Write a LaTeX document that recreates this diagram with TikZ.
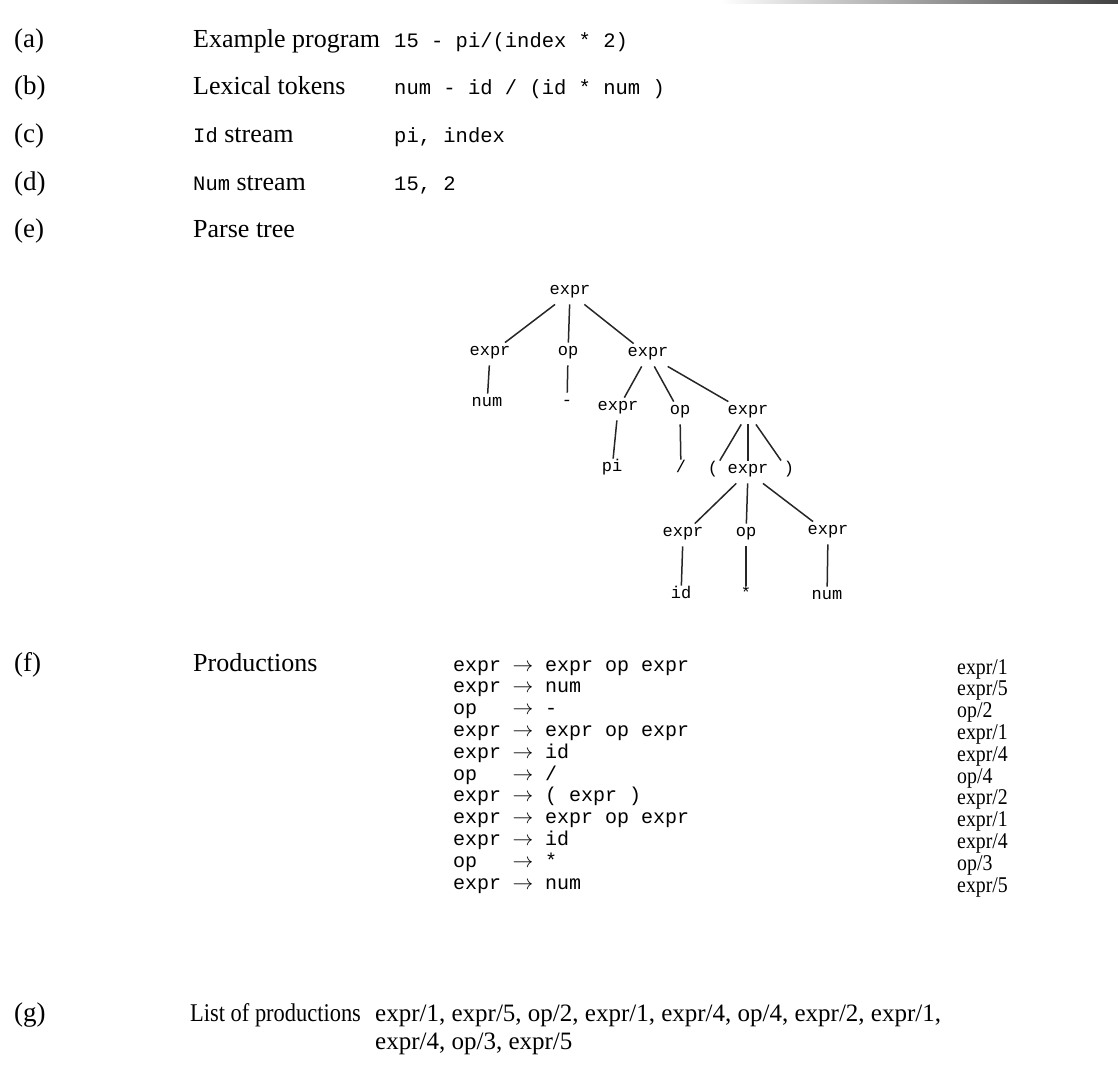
\documentclass[tikz,border=0pt]{standalone}
\usepackage{fontspec}
\setmainfont{Liberation Serif}
\setmonofont{Liberation Mono}
\newfontfamily\condserif[FakeStretch=0.88]{Liberation Serif}
\begin{document}
\begin{tikzpicture}[x=1pt,y=-1pt,
  tag/.style={anchor=base west,inner sep=0,font=\fontsize{27}{30}\selectfont},
  desc/.style={anchor=base west,inner sep=0,font=\fontsize{26}{30}\selectfont},
  val/.style={anchor=base west,inner sep=0,font=\fontsize{20.5}{24}\ttfamily},
  tn/.style={inner xsep=3pt,inner ysep=8pt,font=\fontsize{17}{18}\ttfamily,text height=1.1ex,text depth=0.3ex},
  edge/.style={line width=1.5pt,black!85},
  prodl/.style={anchor=base west,inner sep=0,font=\fontsize{20}{22}\ttfamily},
  arr/.style={anchor=base,inner sep=0,font=\fontsize{20}{22}\selectfont},
  rule/.style={anchor=base west,inner sep=0,font=\fontsize{22.5}{24}\condserif},
  lst/.style={anchor=base west,inner sep=0,font=\fontsize{25}{27}\selectfont},
]
\useasboundingbox (0,0) rectangle (1118,1066);
\shade[left color=white,right color=black!75] (720,0) rectangle (1118,3);

% rows (a)-(e)
\node[tag] (ta) at (14,47) {(a)};
\node[desc] (da) at (193,47) {Example program};
\node[val] (va) at (394,47) {15 - pi/(index * 2)};
\node[tag] (tb) at (14,94) {(b)};
\node[desc] (db) at (193,94) {Lexical tokens};
\node[val] (vb) at (394,94) {num - id / (id * num )};
\node[tag] (tc) at (14,142) {(c)};
\node[desc] (dc) at (193,142) {{\fontsize{20.5}{24}\ttfamily Id} stream};
\node[val] (vc) at (394,142) {pi, index};
\node[tag] (td) at (14,190) {(d)};
\node[desc] (dd) at (193,190) {{\fontsize{20.5}{24}\ttfamily Num} stream};
\node[val] (vd) at (394,190) {15, 2};
\node[tag] (te) at (14,237) {(e)};
\node[desc] (de) at (193,237) {Parse tree};

% parse tree
\node[tn] (r)  at (570,293) {expr};
\node[tn] (a1) at (490,354) {expr};
\node[tn] (a2) at (568,354) {op};
\node[tn] (a3) at (648,355) {expr};
\node[tn] (b1) at (487,405) {num};
\node[tn] (b2) at (567,404) {-};
\node[tn] (c1) at (618,409) {expr};
\node[tn] (c2) at (680,413) {op};
\node[tn] (c3) at (748,413) {expr};
\node[tn] (d1) at (612,470) {pi};
\node[tn] (d2) at (681,471) {/};
\node[tn] (d3) at (713,472) {(};
\node[tn] (d4) at (748,472) {expr};
\node[tn] (d5) at (789,472) {)};
\node[tn] (e1) at (683,535) {expr};
\node[tn] (e2) at (746,535) {op};
\node[tn] (e3) at (828,533) {expr};
\node[tn] (f1) at (681,597) {id};
\node[tn] (f2) at (746,597) {*};
\node[tn] (f3) at (827,598) {num};
\draw[edge] (r) -- (a1);
\draw[edge] (r) -- (a2);
\draw[edge] (r) -- (a3);
\draw[edge] (a1) -- (b1);
\draw[edge] (a2) -- (b2);
\draw[edge] (a3) -- (c1);
\draw[edge] (a3) -- (c2);
\draw[edge] (a3) -- (c3);
\draw[edge] (c1) -- (d1);
\draw[edge] (c2) -- (d2);
\draw[edge] (c3) -- (d3);
\draw[edge] (c3) -- (d4);
\draw[edge] (c3) -- (d5);
\draw[edge] (d4) -- (e1);
\draw[edge] (d4) -- (e2);
\draw[edge] (d4) -- (e3);
\draw[edge] (e1) -- (f1);
\draw[edge] (e2) -- (f2);
\draw[edge] (e3) -- (f3);

% productions
\node[tag] (tf) at (14,671) {(f)};
\node[desc] (df) at (193,671) {Productions};
\foreach \i/\l/\r/\n in {
  0/expr/expr op expr/expr\slash 1,
  1/expr/num/expr\slash 5,
  2/op/-/op\slash 2,
  3/expr/expr op expr/expr\slash 1,
  4/expr/id/expr\slash 4,
  5/op/\slash/op\slash 4,
  6/expr/( expr )/expr\slash 2,
  7/expr/expr op expr/expr\slash 1,
  8/expr/id/expr\slash 4,
  9/op/*/op\slash 3,
  10/expr/num/expr\slash 5}{
  \node[prodl] (pl\i) at (453,{671+21.8*\i}) {\l};
  \node[arr]   (pa\i) at (523,{671+21.8*\i}) {$\rightarrow$};
  \node[prodl] (pr\i) at (545,{671+21.8*\i}) {\r};
  \node[rule]  (pn\i) at (957,{674+21.8*\i}) {\n};
}

% list
\node[tag] (tg) at (14,1021) {(g)};
\node[anchor=base west,inner sep=0,font=\fontsize{25.5}{28}\condserif] (dg) at (190,1021) {List of productions};
\node[lst] (lg1) at (375,1021) {expr/1, expr/5, op/2, expr/1, expr/4, op/4, expr/2, expr/1,};
\node[lst] (lg2) at (375,1049) {expr/4, op/3, expr/5};
\end{tikzpicture}
\end{document}
